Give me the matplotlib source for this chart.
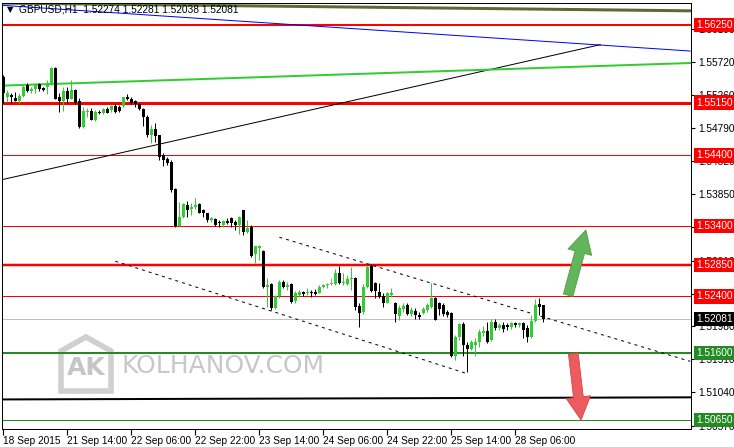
import matplotlib
matplotlib.use("Agg")
import matplotlib.pyplot as plt
from matplotlib.patches import Polygon
import numpy as np

plt.rcParams["font.family"] = ["Liberation Sans", "DejaVu Sans"]

# GBPUSD H1 candles (oldest first)
opens = [1.5551, 1.5523, 1.5526, 1.5521, 1.5517, 1.5524, 1.5540, 1.5531, 1.5534, 1.5541,
         1.5536, 1.5537, 1.5541, 1.5564, 1.5523, 1.5517, 1.5531, 1.5520, 1.5533, 1.5517,
         1.5480, 1.5502, 1.5503, 1.5490, 1.5502, 1.5500, 1.5506, 1.5504, 1.5510, 1.5508,
         1.5510, 1.5523, 1.5520, 1.5517, 1.5513, 1.5506, 1.5494, 1.5469, 1.5477, 1.5469,
         1.5441, 1.5435, 1.5431, 1.5392, 1.5340, 1.5353, 1.5370, 1.5364, 1.5367, 1.5371,
         1.5363, 1.5358, 1.5348, 1.5350, 1.5346, 1.5341, 1.5347, 1.5351, 1.5346, 1.5341,
         1.5363, 1.5331, 1.5338, 1.5300, 1.5309, 1.5304, 1.5253, 1.5258, 1.5224, 1.5241,
         1.5261, 1.5253, 1.5258, 1.5234, 1.5242, 1.5246, 1.5245, 1.5246, 1.5246, 1.5245,
         1.5253, 1.5256, 1.5258, 1.5258, 1.5273, 1.5259, 1.5258, 1.5265, 1.5266, 1.5226,
         1.5218, 1.5253, 1.5283, 1.5259, 1.5246, 1.5241, 1.5231, 1.5242, 1.5231, 1.5212,
         1.5222, 1.5228, 1.5215, 1.5219, 1.5214, 1.5217, 1.5221, 1.5225, 1.5238, 1.5231,
         1.5228, 1.5218, 1.5217, 1.5156, 1.5182, 1.5201, 1.5171, 1.5166, 1.5171, 1.5175,
         1.5188, 1.5191, 1.5178, 1.5204, 1.5195, 1.5200, 1.5200, 1.5197, 1.5202, 1.5200,
         1.5202, 1.5195, 1.5182, 1.5205, 1.5229, 1.52274]
highs = [1.5554, 1.5533, 1.5528, 1.5530, 1.5528, 1.5541, 1.5543, 1.5537, 1.5543, 1.5543,
         1.5537, 1.5547, 1.5565, 1.5565, 1.5528, 1.5537, 1.5537, 1.5547, 1.5534, 1.5521,
         1.5509, 1.5507, 1.5507, 1.5504, 1.5504, 1.5507, 1.5509, 1.5511, 1.5513, 1.5511,
         1.5523, 1.5527, 1.5523, 1.5519, 1.5514, 1.5507, 1.5497, 1.5483, 1.5486, 1.5469,
         1.5443, 1.5438, 1.5434, 1.5394, 1.5374, 1.5373, 1.5375, 1.5373, 1.5380, 1.5373,
         1.5364, 1.5358, 1.5353, 1.5351, 1.5348, 1.5348, 1.5351, 1.5353, 1.5348, 1.5354,
         1.5363, 1.5348, 1.5341, 1.5312, 1.5313, 1.5306, 1.5266, 1.5259, 1.5242, 1.5263,
         1.5263, 1.5261, 1.5259, 1.5248, 1.5249, 1.5248, 1.5252, 1.5249, 1.5251, 1.5256,
         1.5258, 1.5259, 1.5266, 1.5279, 1.5283, 1.5273, 1.5270, 1.5282, 1.5268, 1.5231,
         1.5258, 1.5285, 1.5286, 1.5261, 1.5259, 1.5245, 1.5246, 1.5252, 1.5232, 1.5228,
         1.5231, 1.5231, 1.5225, 1.5224, 1.5218, 1.5225, 1.5231, 1.5259, 1.5239, 1.5232,
         1.5231, 1.5221, 1.5218, 1.5185, 1.5202, 1.5204, 1.5175, 1.5178, 1.5181, 1.5194,
         1.5198, 1.5204, 1.5208, 1.5208, 1.5202, 1.5204, 1.5202, 1.5204, 1.5204, 1.5204,
         1.5204, 1.5200, 1.5214, 1.5236, 1.5238, 1.52281]
lows = [1.5514, 1.5516, 1.5514, 1.5517, 1.5514, 1.5523, 1.5530, 1.5528, 1.5528, 1.5531,
        1.5531, 1.5527, 1.5540, 1.5520, 1.5502, 1.5503, 1.5514, 1.5520, 1.5513, 1.5479,
        1.5479, 1.5494, 1.5490, 1.5489, 1.5499, 1.5499, 1.5500, 1.5502, 1.5500, 1.5502,
        1.5508, 1.5519, 1.5513, 1.5508, 1.5504, 1.5482, 1.5466, 1.5458, 1.5459, 1.5434,
        1.5425, 1.5426, 1.5388, 1.5338, 1.5338, 1.5351, 1.5353, 1.5356, 1.5364, 1.5358,
        1.5353, 1.5346, 1.5346, 1.5340, 1.5338, 1.5338, 1.5343, 1.5338, 1.5334, 1.5329,
        1.5327, 1.5330, 1.5296, 1.5287, 1.5292, 1.5252, 1.5225, 1.5221, 1.5222, 1.5238,
        1.5252, 1.5249, 1.5231, 1.5231, 1.5239, 1.5241, 1.5242, 1.5239, 1.5242, 1.5245,
        1.5252, 1.5252, 1.5256, 1.5256, 1.5258, 1.5256, 1.5256, 1.5249, 1.5221, 1.5197,
        1.5215, 1.5252, 1.5246, 1.5238, 1.5238, 1.5225, 1.5231, 1.5239, 1.5204, 1.5207,
        1.5218, 1.5214, 1.5212, 1.5208, 1.5208, 1.5215, 1.5218, 1.5224, 1.5207, 1.5214,
        1.5212, 1.5211, 1.5154, 1.5150, 1.5178, 1.5156, 1.5133, 1.5164, 1.5156, 1.5168,
        1.5184, 1.5174, 1.5177, 1.5192, 1.5192, 1.5190, 1.5192, 1.5194, 1.5197, 1.5197,
        1.5181, 1.5175, 1.5181, 1.5204, 1.5214, 1.52038]
closes = [1.5528, 1.5528, 1.5523, 1.5517, 1.5524, 1.5537, 1.5531, 1.5534, 1.5540, 1.5534,
          1.5533, 1.5543, 1.5564, 1.5520, 1.5517, 1.5531, 1.5520, 1.5533, 1.5514, 1.5480,
          1.5503, 1.5503, 1.5490, 1.5502, 1.5500, 1.5506, 1.5500, 1.5510, 1.5502, 1.5503,
          1.5523, 1.5520, 1.5514, 1.5513, 1.5506, 1.5494, 1.5469, 1.5477, 1.5468, 1.5438,
          1.5434, 1.5429, 1.5391, 1.5340, 1.5353, 1.5371, 1.5363, 1.5367, 1.5370, 1.5358,
          1.5358, 1.5348, 1.5351, 1.5341, 1.5344, 1.5347, 1.5344, 1.5344, 1.5341, 1.5353,
          1.5331, 1.5337, 1.5297, 1.5312, 1.5312, 1.5253, 1.5256, 1.5224, 1.5241, 1.5261,
          1.5253, 1.5256, 1.5232, 1.5245, 1.5246, 1.5244, 1.5246, 1.5245, 1.5244, 1.5253,
          1.5256, 1.5258, 1.5258, 1.5273, 1.5259, 1.5261, 1.5265, 1.5266, 1.5225, 1.5217,
          1.5253, 1.5282, 1.5248, 1.5248, 1.5239, 1.5231, 1.5245, 1.5245, 1.5215, 1.5224,
          1.5226, 1.5215, 1.5221, 1.5214, 1.5211, 1.5222, 1.5228, 1.5238, 1.5207, 1.5222,
          1.5215, 1.5214, 1.5156, 1.5182, 1.5201, 1.5171, 1.5166, 1.5175, 1.5175, 1.5190,
          1.5191, 1.5175, 1.5204, 1.5195, 1.5200, 1.5194, 1.5197, 1.5202, 1.5200, 1.5202,
          1.5192, 1.5182, 1.5205, 1.5228, 1.5225, 1.52081]

x_tick_pos = [0, 16, 32, 48, 64, 80, 96, 112, 128]
x_tick_labels = ["18 Sep 2015", "21 Sep 14:00", "22 Sep 06:00", "22 Sep 22:00", "23 Sep 14:00",
                 "24 Sep 06:00", "24 Sep 22:00", "25 Sep 14:00", "28 Sep 06:00"]
y_ticks = [1.5619, 1.5572, 1.5526, 1.5479, 1.5432, 1.5385, 1.5338, 1.5291,
           1.5244, 1.5198, 1.5151, 1.5104, 1.5057]

red_levels = [1.5625, 1.5515, 1.5440, 1.5340, 1.5285, 1.5240]
red_px = [2, 3, 1, 1, 2.5, 1]
green_levels = [1.5160, 1.5065]
green_px = [2, 1]
bid = 1.52081

# trendlines: (x0, y0, x1, y1) in bar index / price
blue_line = (-0.8, 1.5653, 171.7, 1.5588)
olive_line = (-0.8, 1.5656, 171.7, 1.5645)
black_line = (-0.8, 1.5405, 149.2, 1.5597)
lime_line = (0, 1.5539, 171.7, 1.5571)
chan_upper = (69, 1.5324, 171.7, 1.5148)
chan_lower = (28, 1.5290, 115.7, 1.5131)
support_line = (-0.8, 1.5094, 171.7, 1.5097)

PX = 0.72  # one pixel in points at dpi 100
FS = 7.3

fig = plt.figure(figsize=(7.34, 4.47), dpi=100)
fig.patch.set_facecolor("white")

# background layer in pixel coords for the watermark
bg = fig.add_axes([0, 0, 1, 1], zorder=0)
bg.set_xlim(0, 734)
bg.set_ylim(447, 0)
bg.axis("off")
house = Polygon([(61, 391), (61, 351), (86, 337), (111, 351), (111, 391)], closed=True,
                fill=False, edgecolor="#d0d0d0", linewidth=4)
bg.add_patch(house)
bg.text(86, 368, "AK", color="#c6c6c6", fontsize=18, fontweight="bold",
        family="DejaVu Sans", ha="center", va="center")
bg.text(122, 366, "KOLHANOV.COM", color="#c8c8c8", fontsize=18,
        family="DejaVu Sans", ha="left", va="center")

ax = fig.add_axes([2 / 734, 18 / 447, 689 / 734, 426 / 447], zorder=1)
ax.patch.set_alpha(0)
ax.set_xlim(-0.325, 171.9)
ax.set_ylim(1.50521, 1.56561)

# horizontal levels
for lv, w in zip(red_levels, red_px):
    ax.axhline(lv, color="#ff0000", linewidth=w * PX, zorder=2)
for lv, w in zip(green_levels, green_px):
    ax.axhline(lv, color="#228b22", linewidth=w * PX, zorder=2)
ax.axhline(bid, color="#c0c0c0", linewidth=1 * PX, zorder=1.5)

def seg(line, **kw):
    ax.plot([line[0], line[2]], [line[1], line[3]], **kw)

seg(olive_line, color="#5b6b33", linewidth=3 * PX, zorder=2)
seg(blue_line, color="#0000ff", linewidth=1 * PX, zorder=2)
seg(black_line, color="black", linewidth=1 * PX, zorder=2)
seg(lime_line, color="#32cd32", linewidth=2 * PX, zorder=2)
seg(support_line, color="black", linewidth=2 * PX, zorder=2)
seg(chan_upper, color="black", linewidth=1 * PX, linestyle=(0, (3, 4)), zorder=2)
seg(chan_lower, color="black", linewidth=1 * PX, linestyle=(0, (3, 4)), zorder=2)

# candles
o = np.array(opens)
h = np.array(highs)
l = np.array(lows)
c = np.array(closes)
xs = np.arange(len(o))
cols = np.where(c > o, "#32cd32", np.where(c < o, "black", "#9a9a9a"))
ax.vlines(xs, l, h, colors=cols, linewidth=1 * PX, zorder=3)
body_low = np.minimum(o, c)
body_h = np.maximum(np.abs(c - o), 0.00009)
ax.bar(xs, body_h, bottom=body_low, width=0.75, color=cols, linewidth=0, zorder=4)

# arrows
astyle = "simple,head_length=0.75,head_width=0.8,tail_width=0.32"
ax.annotate("", xy=(145.8, 1.5338), xytext=(141.0, 1.5238),
            arrowprops=dict(arrowstyle=astyle, fc="#62b55a", ec="#4f9a48", lw=0.6,
                            mutation_scale=22),
            zorder=5)
ax.annotate("", xy=(144.5, 1.5061), xytext=(142.4, 1.5163),
            arrowprops=dict(arrowstyle=astyle, fc="#ee5b5e", ec="#d44548", lw=0.6,
                            mutation_scale=22),
            zorder=5)

# axes styling
for s in ax.spines.values():
    s.set_color("black")
    s.set_linewidth(1 * PX)
ax.yaxis.tick_right()
ax.set_yticks(y_ticks)
ax.set_yticklabels(["%.5f" % v for v in y_ticks])
ax.tick_params(axis="y", direction="out", length=3, width=0.8, labelsize=FS, pad=2)
ax.set_xticks(x_tick_pos)
ax.set_xticklabels(x_tick_labels)
ax.tick_params(axis="x", direction="out", length=4, width=0.8, labelsize=FS, pad=1)
for lbl in ax.get_xticklabels():
    lbl.set_ha("left")

# price boxes on the right scale
tr = ax.get_yaxis_transform()
boxes = [(v, "#ff0000") for v in red_levels] + [(bid, "black")] + \
        [(v, "#228b22") for v in green_levels]
for v, colr in boxes:
    ax.text(1.0075, v, "%.5f" % v, transform=tr, color="white", fontsize=FS,
            ha="left", va="center", clip_on=False, zorder=10,
            bbox=dict(boxstyle="square,pad=0.22", fc=colr, ec="none"))

# chart title
fig.text(7 / 734, 1 - 10 / 447, "\u25bc", fontsize=6, color="black",
         family="DejaVu Sans", ha="left", va="center", zorder=10)
fig.text(19 / 734, 1 - 10 / 447, "GBPUSD,H1  1.52274 1.52281 1.52038 1.52081",
         fontsize=FS, color="black", ha="left", va="center", zorder=10)

fig.savefig("out.png", dpi=100)
